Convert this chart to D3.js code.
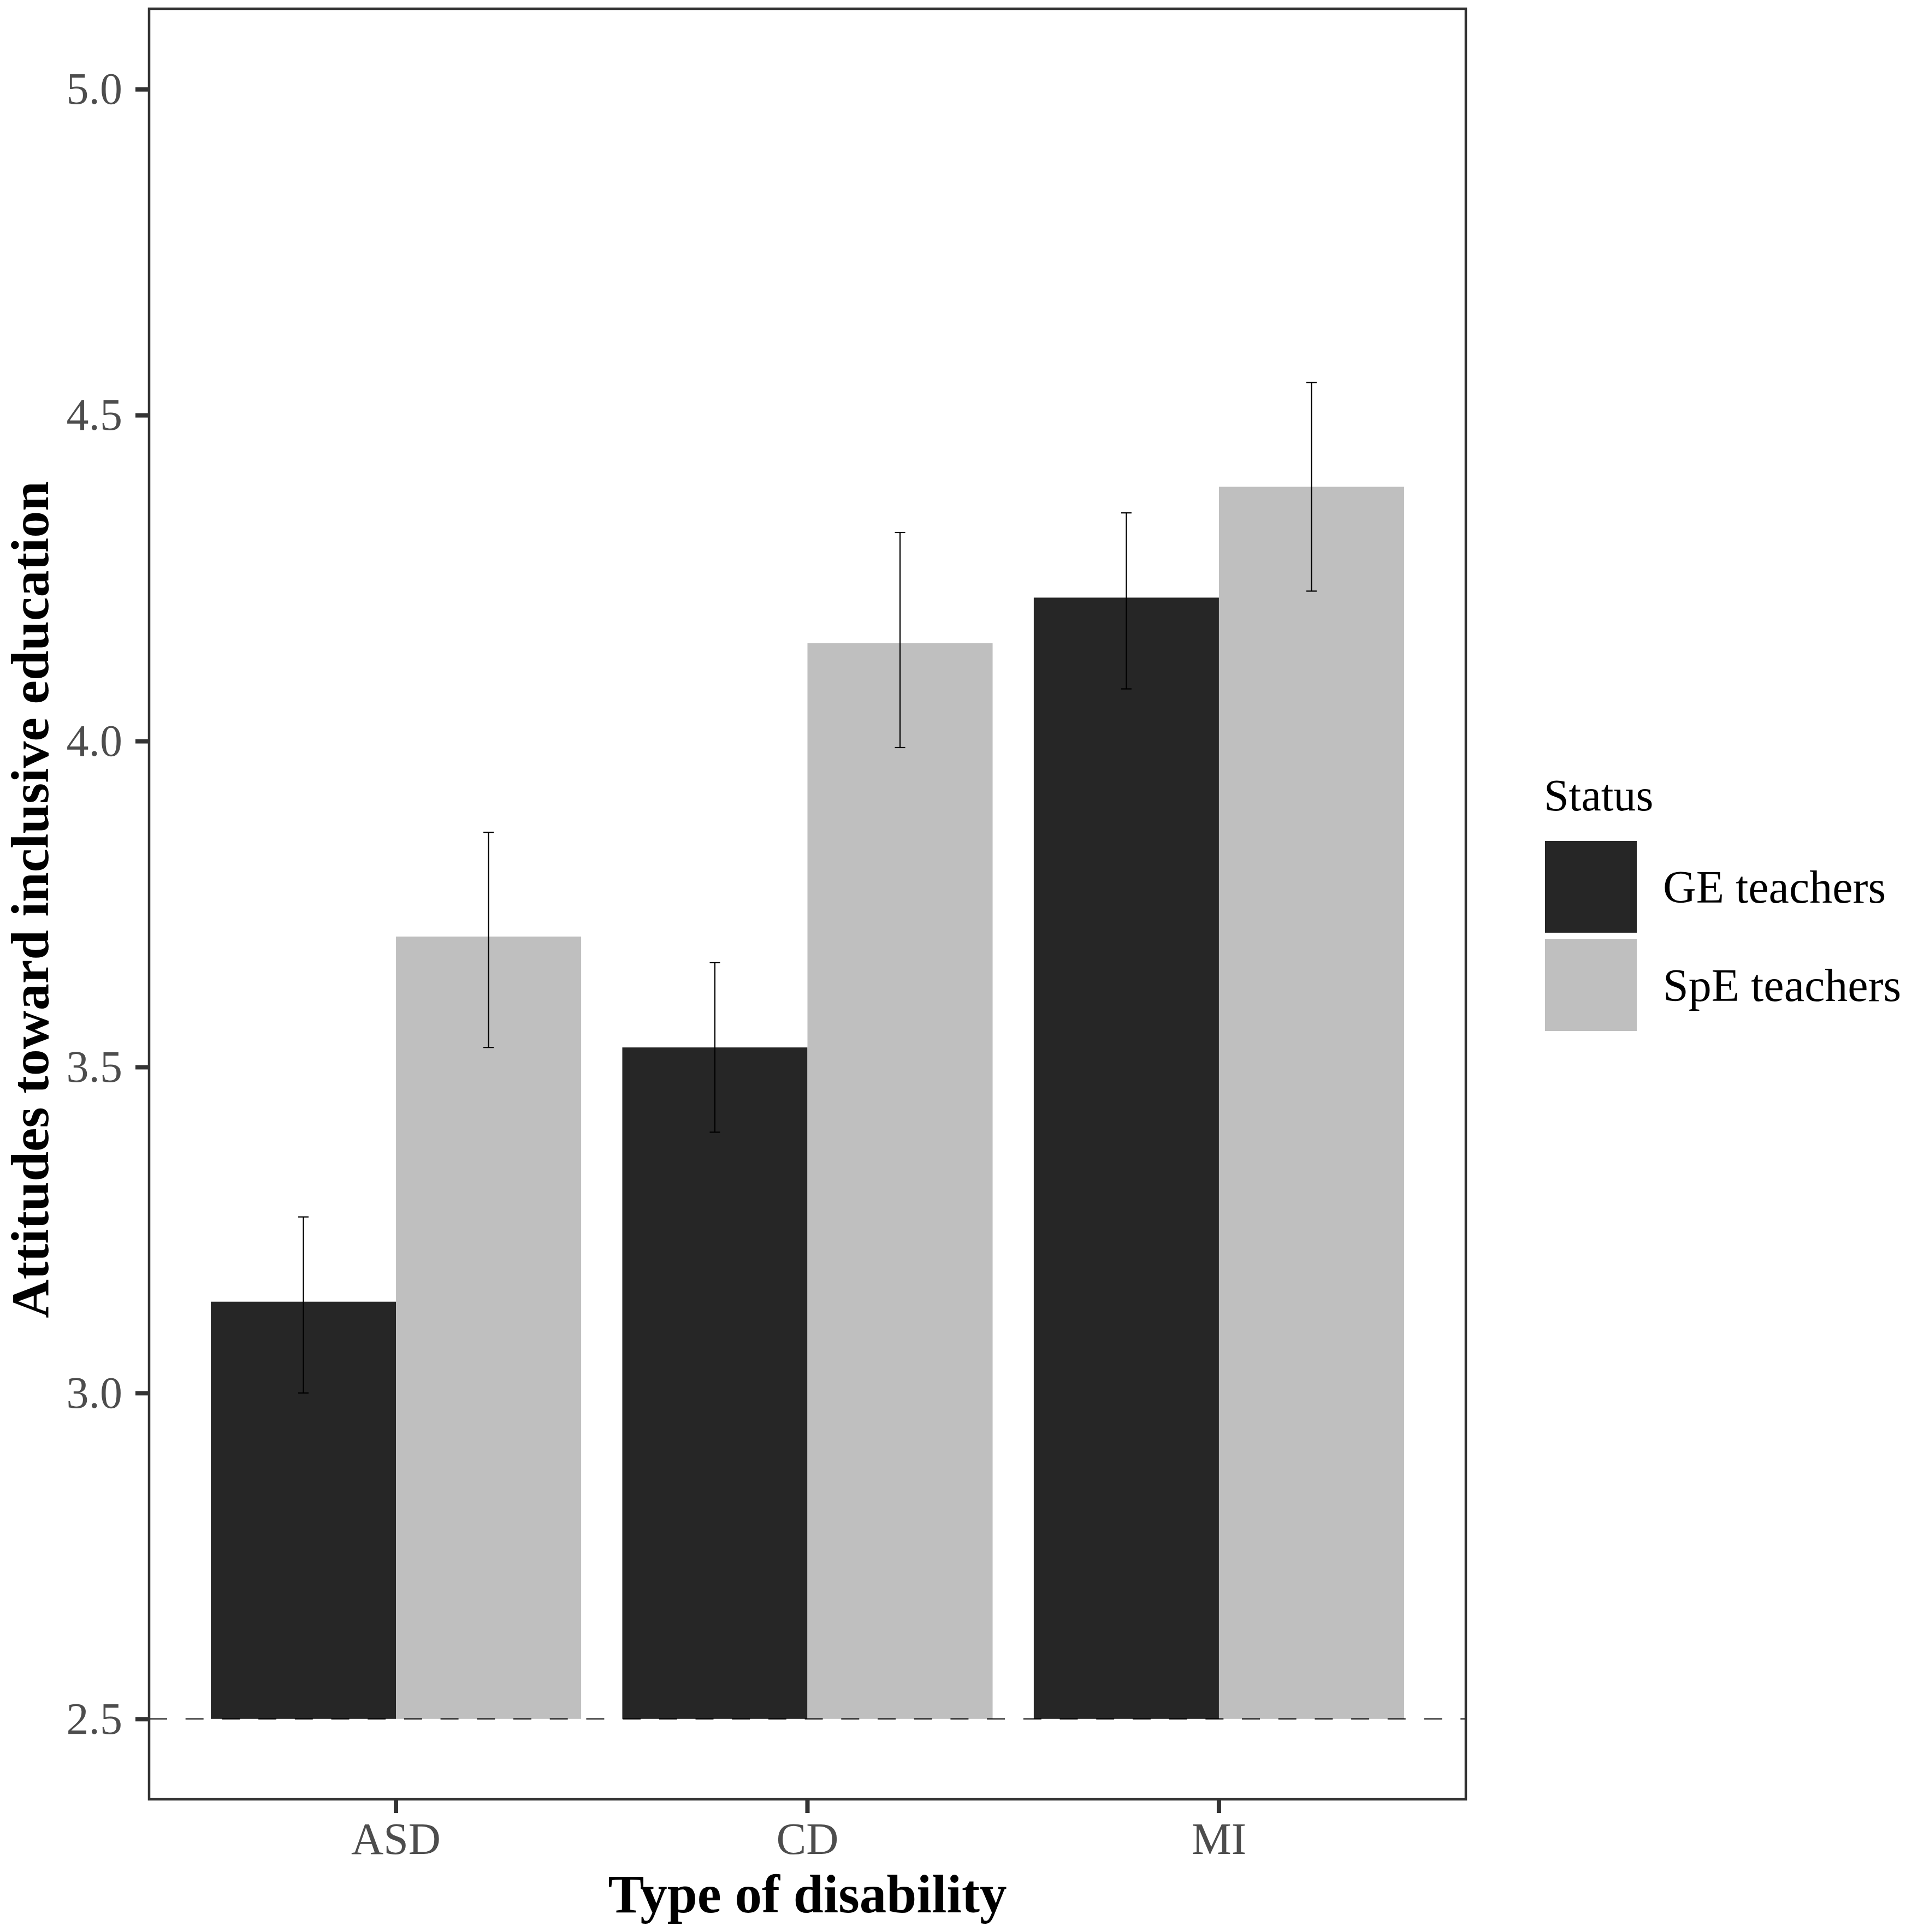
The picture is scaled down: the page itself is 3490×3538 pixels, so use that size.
<!DOCTYPE html>
<html>
<head>
<meta charset="utf-8">
<script src="https://cdn.jsdelivr.net/npm/d3@7/dist/d3.min.js"></script>
<style>
  html, body { margin: 0; padding: 0; background: #ffffff; }
  svg { display: block; }
</style>
</head>
<body>
<script>
// ---------- data ----------
const categories = ["ASD", "CD", "MI"];
const series = ["GE teachers", "SpE teachers"];
const geMeans  = [3.14, 3.53, 4.22];
const geLower  = [3.00, 3.40, 4.08];
const geUpper  = [3.27, 3.66, 4.35];
const speMeans = [3.70, 4.15, 4.39];
const speLower = [3.53, 3.99, 4.23];
const speUpper = [3.86, 4.32, 4.55];
const yTicks = [2.5, 3.0, 3.5, 4.0, 4.5, 5.0];
const yDomain = [2.375, 5.125];
const baseline = 2.5;
const xTitle = "Type of disability";
const yTitle = "Attitudes toward inclusive education";
const legendTitle = "Status";

// ---------- layout / style ----------
const W = 3490, H = 3538;
const panel = { left: 273, right: 2684, top: 14, bottom: 3297 };
const colors = { "GE teachers": "#262626", "SpE teachers": "#BFBFBF" };
const FONT = "'Liberation Serif', 'Times New Roman', Times, serif";

const rows = [];
categories.forEach((c, i) => {
  rows.push({ cat: c, s: series[0], mean: geMeans[i], lo: geLower[i], hi: geUpper[i] });
  rows.push({ cat: c, s: series[1], mean: speMeans[i], lo: speLower[i], hi: speUpper[i] });
});

const svg = d3.select("body").append("svg")
  .attr("width", W).attr("height", H)
  .attr("viewBox", `0 0 ${W} ${H}`);

svg.append("rect").attr("width", W).attr("height", H).attr("fill", "#ffffff");

const x = d3.scaleBand().domain(categories)
  .range([panel.left, panel.right])
  .paddingInner(0.1).paddingOuter(0.15);
const xs = d3.scaleBand().domain(series).range([0, x.bandwidth()]);
const y = d3.scaleLinear().domain(yDomain).range([panel.bottom, panel.top]);
const color = d3.scaleOrdinal().domain(series).range(series.map(s => colors[s]));

// bars
svg.append("g").selectAll("rect").data(rows).join("rect")
  .attr("x", d => x(d.cat) + xs(d.s))
  .attr("width", xs.bandwidth())
  .attr("y", d => y(d.mean))
  .attr("height", d => y(baseline) - y(d.mean))
  .attr("fill", d => color(d.s));

// dashed reference line
svg.append("line")
  .attr("x1", x.range()[0]).attr("x2", x.range()[1])
  .attr("y1", y(baseline)).attr("y2", y(baseline))
  .attr("stroke", "#000").attr("stroke-width", 2.2)
  .attr("stroke-dasharray", "33 33.7");

// error bars
const capW = xs.bandwidth() * 0.056;
const eb = svg.append("g").attr("stroke", "#000").attr("stroke-width", 2.2).attr("fill", "none");
rows.forEach(d => {
  const cx = x(d.cat) + xs(d.s) + xs.bandwidth() / 2;
  eb.append("line").attr("x1", cx).attr("x2", cx).attr("y1", y(d.lo)).attr("y2", y(d.hi));
  eb.append("line").attr("x1", cx - capW / 2).attr("x2", cx + capW / 2).attr("y1", y(d.lo)).attr("y2", y(d.lo));
  eb.append("line").attr("x1", cx - capW / 2).attr("x2", cx + capW / 2).attr("y1", y(d.hi)).attr("y2", y(d.hi));
});

// panel border
svg.append("rect")
  .attr("x", panel.left).attr("y", panel.top + 2)
  .attr("width", panel.right - panel.left).attr("height", panel.bottom - panel.top - 4)
  .attr("fill", "none").attr("stroke", "#333333").attr("stroke-width", 4.5);

// axes
const yAxis = svg.append("g")
  .attr("transform", `translate(${panel.left - 2},0)`)
  .call(d3.axisLeft(y).tickValues(yTicks).tickFormat(d3.format(".1f")).tickSize(23).tickPadding(24));
const xAxis = svg.append("g")
  .attr("transform", `translate(0,${panel.bottom})`)
  .call(d3.axisBottom(x).tickSize(23).tickPadding(17));
[yAxis, xAxis].forEach(g => {
  g.select(".domain").remove();
  g.selectAll(".tick line").attr("stroke", "#333333").attr("stroke-width", 8);
  g.selectAll(".tick text")
    .attr("fill", "#4D4D4D")
    .style("font-family", FONT).style("font-size", "82px");
});

// axis titles
svg.append("text")
  .attr("x", (panel.left + panel.right) / 2).attr("y", 3502)
  .attr("text-anchor", "middle")
  .style("font-family", FONT).style("font-size", "99px").style("font-weight", "bold")
  .attr("fill", "#000").text(xTitle);
svg.append("text")
  .attr("transform", `translate(88,${(panel.top + panel.bottom) / 2 - 8}) rotate(-90)`)
  .attr("text-anchor", "middle")
  .style("font-family", FONT).style("font-size", "98px").style("font-weight", "bold")
  .attr("fill", "#000").text(yTitle);

// legend
const legend = svg.append("g");
legend.append("text")
  .attr("x", 2827).attr("y", 1484)
  .style("font-family", FONT).style("font-size", "82px")
  .attr("fill", "#000").text(legendTitle);
const keySize = 168, keyStep = 180, keyTop = 1540, keyLeft = 2829;
const ly = d3.scaleOrdinal().domain(series).range(series.map((s, i) => keyTop + i * keyStep));
legend.selectAll("rect.key").data(series).join("rect")
  .attr("class", "key")
  .attr("x", keyLeft).attr("y", d => ly(d))
  .attr("width", keySize).attr("height", keySize)
  .attr("fill", d => color(d));
legend.selectAll("text.lab").data(series).join("text")
  .attr("class", "lab")
  .attr("x", 3045).attr("y", d => ly(d) + keySize / 2)
  .attr("dy", "0.34em")
  .style("font-family", FONT).style("font-size", "84px")
  .attr("fill", "#000").text(d => d);
</script>
</body>
</html>
